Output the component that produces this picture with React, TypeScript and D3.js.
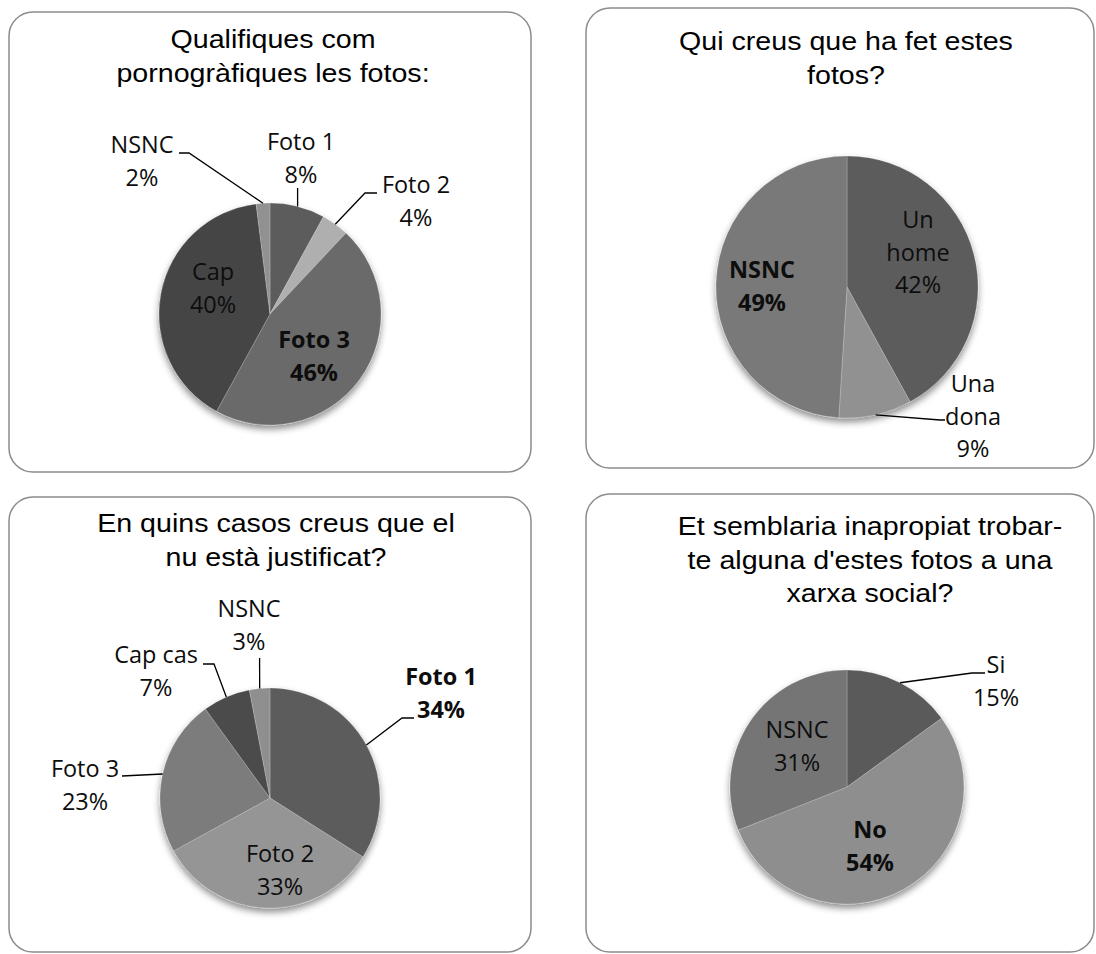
import React from 'react';
import * as d3 from 'd3';

// ---------- DATA ----------
const chart1Title = ['Qualifiques com', 'pornogràfiques les fotos:'];
const chart1Cats = ['Foto 1', 'Foto 2', 'Foto 3', 'Cap', 'NSNC'];
const chart1Vals = [8, 4, 46, 40, 2];

const chart2Title = ['Qui creus que ha fet estes', 'fotos?'];
const chart2Cats = ['Un home', 'Una dona', 'NSNC'];
const chart2Vals = [42, 9, 49];

const chart3Title = ['En quins casos creus que el', 'nu està justificat?'];
const chart3Cats = ['Foto 1', 'Foto 2', 'Foto 3', 'Cap cas', 'NSNC'];
const chart3Vals = [34, 33, 23, 7, 3];

const chart4Title = ['Et semblaria inapropiat trobar-', "te alguna d'estes fotos a una", 'xarxa social?'];
const chart4Cats = ['Si', 'No', 'NSNC'];
const chart4Vals = [15, 54, 31];

// ---------- LAYOUT / STYLE ----------
type LabelLayout = {
  dx: number; dy: number; bold?: boolean; wrap?: boolean;
  leader?: [number, number][];
};
type Panel = {
  title: string[]; cats: string[]; vals: number[];
  box: [number, number, number, number];
  titleX: number; titleY: number;
  cx: number; cy: number; r: number;
  colors: string[];
  labels: LabelLayout[];
};

const panels: Panel[] = [
  {
    title: chart1Title, cats: chart1Cats, vals: chart1Vals,
    box: [9, 12, 531, 472], titleX: 273, titleY: 48,
    cx: 270, cy: 314, r: 111,
    colors: ['#545454', '#a2a2a2', '#626262', '#404040', '#868686'],
    labels: [
      { dx: 31, dy: -164, leader: [[27.6, -126]] },
      { dx: 146, dy: -121, leader: [[95, -121], [107, -121]] },
      { dx: 44, dy: 34, bold: true },
      { dx: -57, dy: -34 },
      { dx: -128, dy: -161, leader: [[-81, -161], [-91, -161]] },
    ],
  },
  {
    title: chart2Title, cats: chart2Cats, vals: chart2Vals,
    box: [586, 8, 1094, 468], titleX: 846, titleY: 50,
    cx: 847, cy: 287, r: 131,
    colors: ['#545454', '#868686', '#707070'],
    labels: [
      { dx: 71, dy: -59, wrap: true },
      { dx: 126, dy: 105, wrap: true, leader: [[93, 133], [98, 133]] },
      { dx: -85, dy: -9, bold: true },
    ],
  },
  {
    title: chart3Title, cats: chart3Cats, vals: chart3Vals,
    box: [9, 497, 531, 952], titleX: 276, titleY: 532,
    cx: 270, cy: 798, r: 110,
    colors: ['#555555', '#8a8a8a', '#727272', '#464646', '#848484'],
    labels: [
      { dx: 171, dy: -113, bold: true, leader: [[132, -80], [144, -80]] },
      { dx: 10, dy: 64 },
      { dx: -185, dy: -21, leader: [[-148, -22]] },
      { dx: -114, dy: -135, leader: [[-56, -134], [-67, -134]] },
      { dx: -21, dy: -181, leader: [[-10.4, -140]] },
    ],
  },
  {
    title: chart4Title, cats: chart4Cats, vals: chart4Vals,
    box: [586, 494, 1094, 952], titleX: 870, titleY: 535,
    cx: 847, cy: 787, r: 117,
    colors: ['#535353', '#838383', '#6c6c6c'],
    labels: [
      { dx: 149, dy: -114, leader: [[125, -114], [138, -114]] },
      { dx: 23, dy: 51, bold: true },
      { dx: -50, dy: -49 },
    ],
  },
];

const TITLE_FONT = '"Liberation Sans", Arial, sans-serif';
const LABEL_FONT = '"Open Sans", "Noto Sans", sans-serif';
const TITLE_SIZE = 26;
const TITLE_SX = 1.1;
const TITLE_LH = 33.5;
const LABEL_SIZE = 23;
const LABEL_SX = 1.02;
const LABEL_LH = 32.5;

function PiePanel({ p, idx }: { p: Panel; idx: number }) {
  const pie = d3.pie<number>().sort(null).value((d) => d);
  const arcs = pie(p.vals);
  const arc = d3.arc<d3.PieArcDatum<number>>().innerRadius(0).outerRadius(p.r);
  const total = d3.sum(p.vals);
  const fmt = (v: number) => `${Math.round((v / total) * 100)}%`;
  const [x0, y0, x1, y1] = p.box;

  return (
    <g>
      <rect x={x0} y={y0} width={x1 - x0} height={y1 - y0} rx={24} ry={24}
        fill="#ffffff" stroke="#8c8c8c" strokeWidth={1.5} />
      {p.title.map((t, i) => (
        <text key={i} transform={`translate(${p.titleX},${p.titleY + i * TITLE_LH}) scale(${TITLE_SX},1)`}
          textAnchor="middle" fontFamily={TITLE_FONT} fontSize={TITLE_SIZE} fill="#000">{t}</text>
      ))}
      <defs>
        {p.colors.map((c, i) => {
          const top = d3.color(c)!.brighter(0.22).formatHex();
          const bot = d3.color(c)!.darker(0.18).formatHex();
          return (
            <linearGradient key={i} id={`g${idx}_${i}`} gradientUnits="userSpaceOnUse"
              x1={0} y1={p.cy - p.r} x2={0} y2={p.cy + p.r}>
              <stop offset="0" stopColor={top} />
              <stop offset="1" stopColor={bot} />
            </linearGradient>
          );
        })}
      </defs>
      <g filter="url(#pieShadow)">
        {arcs.map((a, i) => (
          <path key={i} transform={`translate(${p.cx},${p.cy})`} d={arc(a) || ''}
            fill={`url(#g${idx}_${i})`} stroke="#ffffff" strokeOpacity={0.25} strokeWidth={0.8} />
        ))}
      </g>
      {arcs.map((a, i) => {
        const L = p.labels[i];
        const mid = (a.startAngle + a.endAngle) / 2;
        const ex = p.r * Math.sin(mid);
        const ey = -p.r * Math.cos(mid);
        const lines = (L.wrap ? p.cats[i].split(' ') : [p.cats[i]]).concat([fmt(p.vals[i])]);
        const lx = p.cx + L.dx;
        const ly = p.cy + L.dy;
        return (
          <g key={i}>
            {L.leader && (
              <path
                d={d3.line()([[ex, ey], ...L.leader].map(([x, y]) => [p.cx + x, p.cy + y] as [number, number])) || ''}
                fill="none" stroke="#000" strokeWidth={1.3} />
            )}
            {lines.map((t, j) => (
              <text key={j} transform={`translate(${lx},${ly + j * LABEL_LH}) scale(${LABEL_SX},1)`}
                textAnchor="middle" fontFamily={LABEL_FONT} fontSize={LABEL_SIZE}
                fontWeight={L.bold ? 700 : 400} fill="#0d0d0d">{t}</text>
            ))}
          </g>
        );
      })}
    </g>
  );
}

export default function App() {
  return (
    <svg width={1096} height={954} style={{ position: 'absolute', left: 0, top: 0, display: 'block', background: '#fff' }}>
      <defs>
        <filter id="pieShadow" x="-20%" y="-20%" width="140%" height="150%">
          <feDropShadow dx={0} dy={4} stdDeviation={3.5} floodColor="#000" floodOpacity={0.45} />
        </filter>
      </defs>
      {panels.map((p, i) => <PiePanel key={i} p={p} idx={i} />)}
    </svg>
  );
}
